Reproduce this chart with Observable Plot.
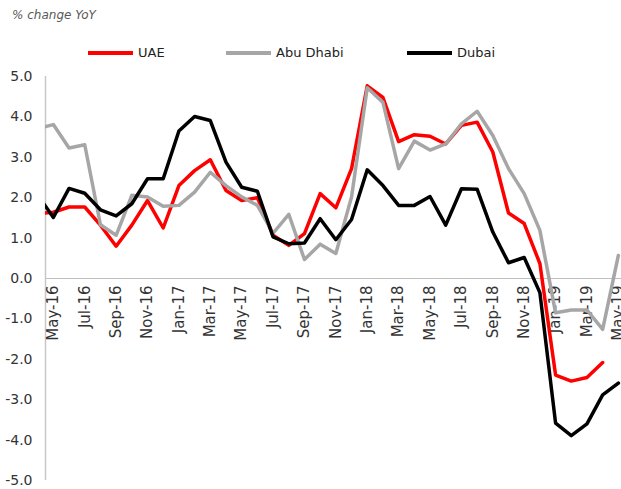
<!DOCTYPE html>
<html>
<head>
<meta charset="utf-8">
<script src="https://cdn.jsdelivr.net/npm/d3@7"></script>
<script src="https://cdn.jsdelivr.net/npm/@observablehq/plot@0.6"></script>
<style>
  html, body { margin: 0; padding: 0; background: #fff; overflow: hidden; }
  #wrap { position: relative; width: 621px; height: 489px; font-family: "DejaVu Sans", Verdana, sans-serif; }
  #title { position: absolute; left: 12px; top: 8px; font-size: 12px; font-style: italic; font-weight: normal; color: #595959; }
  .leg { position: absolute; top: 45px; display: flex; align-items: center; font-size: 13px; font-weight: normal; color: #222; }
  .sw { width: 45px; height: 4px; margin-right: 5px; }
</style>
</head>
<body>
<div id="wrap">
  <div id="chart"></div>
  <div id="title">% change YoY</div>
  <div id="legend"></div>
</div>
<script>
const months = ["Apr-16","May-16","Jun-16","Jul-16","Aug-16","Sep-16","Oct-16","Nov-16","Dec-16",
  "Jan-17","Feb-17","Mar-17","Apr-17","May-17","Jun-17","Jul-17","Aug-17","Sep-17","Oct-17","Nov-17","Dec-17",
  "Jan-18","Feb-18","Mar-18","Apr-18","May-18","Jun-18","Jul-18","Aug-18","Sep-18","Oct-18","Nov-18","Dec-18",
  "Jan-19","Feb-19","Mar-19","Apr-19","May-19"];

const uae = [1.60,1.64,1.77,1.77,1.32,0.80,1.32,1.93,1.25,2.30,2.67,2.94,2.18,1.93,2.00,1.07,0.82,1.11,
  2.10,1.75,2.72,4.77,4.48,3.39,3.56,3.52,3.33,3.79,3.87,3.13,1.62,1.36,0.37,-2.39,-2.54,-2.45,-2.08,null];
const abuDhabi = [3.71,3.81,3.23,3.31,1.33,1.07,2.06,2.02,1.79,1.81,2.14,2.63,2.30,2.02,1.81,1.12,1.59,0.47,
  0.85,0.62,2.02,4.72,4.36,2.72,3.40,3.18,3.33,3.83,4.14,3.54,2.72,2.10,1.19,-0.85,-0.78,-0.78,-1.26,0.57];
const dubai = [2.07,1.51,2.23,2.11,1.70,1.55,1.85,2.47,2.47,3.65,4.01,3.91,2.88,2.26,2.16,1.03,0.86,0.88,
  1.48,0.96,1.46,2.69,2.30,1.81,1.81,2.03,1.32,2.22,2.21,1.15,0.39,0.52,-0.35,-3.58,-3.89,-3.60,-2.88,-2.59];

const tickLabels = ["May-16","Jul-16","Sep-16","Nov-16","Jan-17","Mar-17","May-17","Jul-17","Sep-17","Nov-17",
  "Jan-18","Mar-18","May-18","Jul-18","Sep-18","Nov-18","Jan-19","Mar-19","May-19"];
const yTicks = [-5,-4,-3,-2,-1,0,1,2,3,4,5];

const seriesNames = ["UAE","Abu Dhabi","Dubai"];
const seriesColors = ["#ff0000","#a6a6a6","#000000"];
const seriesValues = [uae, abuDhabi, dubai];

const rows = [];
seriesValues.forEach((vals, s) => vals.forEach((v, i) => {
  if (v !== null) rows.push({series: seriesNames[s], i, v});
}));
const labelRows = tickLabels.map(t => ({t, i: months.indexOf(t)}));

const chart = Plot.plot({
  width: 621,
  height: 489,
  marginTop: 76,
  marginBottom: 9,
  marginLeft: 45,
  marginRight: 0,
  style: {fontFamily: "DejaVu Sans, Verdana, sans-serif", fontSize: "14px", color: "#333", background: "white"},
  x: {type: "linear", domain: [0.5, 37.2], axis: null, label: null},
  y: {domain: [-5, 5], axis: null, label: null},
  marks: [
    Plot.ruleY([0], {stroke: "#bfbfbf", strokeWidth: 1}),
    Plot.ruleX([0.5], {y1: -5, y2: 5, stroke: "#c8c8c8", strokeWidth: 1.5}),
    Plot.axisY(yTicks, {tickSize: 0, tickPadding: 13, tickFormat: d => d.toFixed(1), fontSize: 14, fill: "#333", label: null}),
    Plot.text(labelRows, {x: "i", y: () => 0, text: "t", rotate: -90, textAnchor: "end", dy: 7, fontSize: 15, fill: "#333"}),
    ...seriesNames.map((name, s) => Plot.line(rows.filter(r => r.series === name), {
      x: "i", y: "v", stroke: seriesColors[s], strokeWidth: 3.5, clip: true
    }))
  ]
});
document.getElementById("chart").appendChild(chart);

const legend = document.getElementById("legend");
const legLeft = [88, 226, 407];
seriesNames.forEach((name, s) => {
  const item = document.createElement("div");
  item.className = "leg";
  item.style.left = legLeft[s] + "px";
  item.innerHTML = `<span class="sw" style="background:${seriesColors[s]}"></span><span>${name}</span>`;
  legend.appendChild(item);
});
</script>
</body>
</html>
